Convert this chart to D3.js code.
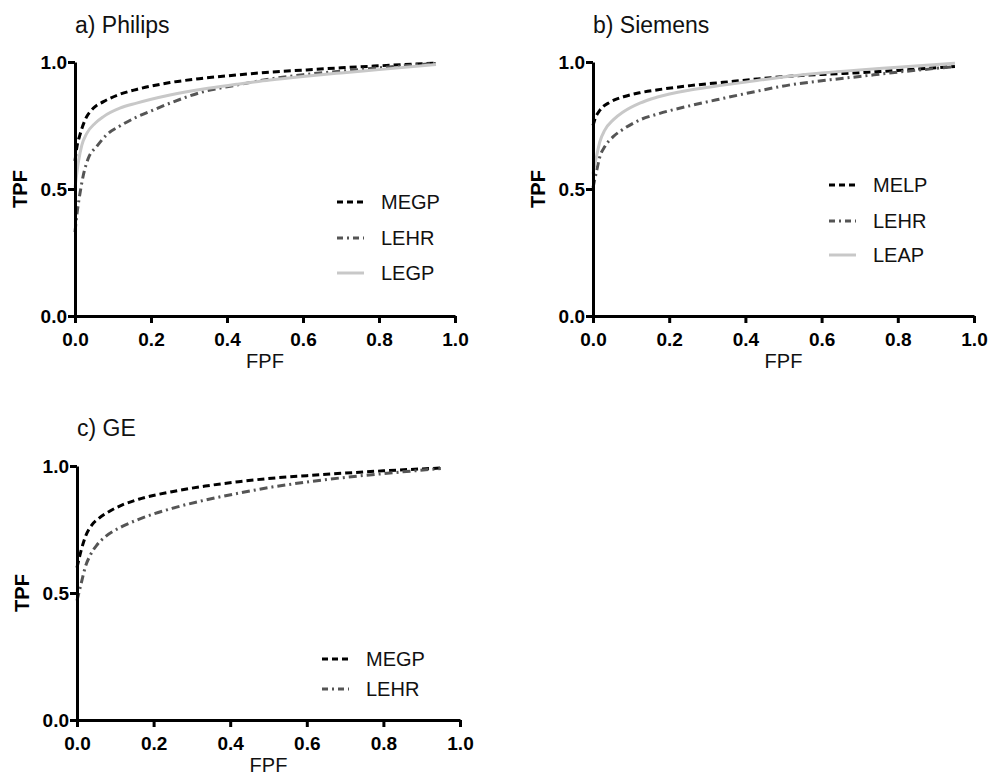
<!DOCTYPE html>
<html>
<head>
<meta charset="utf-8">
<script src="https://cdn.jsdelivr.net/npm/d3@7"></script>
<style>
  html, body { margin: 0; padding: 0; background: #fff; }
  svg { display: block; font-family: "Liberation Sans", Arial, Helvetica, sans-serif; }
</style>
</head>
<body>
<svg id="chart" width="989" height="778"></svg>
<script>
// ---- Data ----
const xTicks = [0, 0.2, 0.4, 0.6, 0.8, 1.0];
const yTicks = [0, 0.5, 1.0];

// a) Philips
const philipsMEGP = [[0,0.61],[0.005,0.665],[0.013,0.713],[0.026,0.77],[0.048,0.818],[0.075,0.844],[0.118,0.873],[0.162,0.892],[0.25,0.919],[0.338,0.936],[0.425,0.949],[0.513,0.96],[0.6,0.968],[0.7,0.977],[0.8,0.985],[0.95,0.996]];
const philipsLEHR = [[0,0.33],[0.005,0.40],[0.011,0.463],[0.022,0.555],[0.035,0.621],[0.057,0.667],[0.083,0.713],[0.118,0.748],[0.162,0.783],[0.206,0.811],[0.25,0.838],[0.338,0.883],[0.425,0.909],[0.513,0.933],[0.6,0.95],[0.7,0.964],[0.8,0.977],[0.95,0.995]];
const philipsLEGP = [[0,0.505],[0.009,0.607],[0.018,0.673],[0.031,0.719],[0.053,0.759],[0.075,0.785],[0.118,0.818],[0.162,0.838],[0.25,0.87],[0.338,0.894],[0.425,0.912],[0.513,0.929],[0.6,0.943],[0.7,0.957],[0.8,0.97],[0.95,0.99]];

// b) Siemens
const siemensMELP = [[0,0.75],[0.005,0.775],[0.018,0.81],[0.045,0.842],[0.08,0.863],[0.123,0.879],[0.167,0.89],[0.255,0.907],[0.342,0.92],[0.43,0.933],[0.517,0.944],[0.6,0.951],[0.7,0.958],[0.8,0.967],[0.95,0.982]];
const siemensLEHR = [[0,0.505],[0.01,0.575],[0.018,0.627],[0.031,0.667],[0.053,0.706],[0.08,0.736],[0.123,0.772],[0.167,0.794],[0.255,0.828],[0.342,0.857],[0.43,0.885],[0.517,0.91],[0.6,0.926],[0.7,0.943],[0.8,0.96],[0.95,0.982]];
const siemensLEAP = [[0,0.56],[0.01,0.634],[0.018,0.686],[0.031,0.732],[0.053,0.772],[0.08,0.804],[0.123,0.838],[0.167,0.861],[0.255,0.89],[0.342,0.909],[0.43,0.927],[0.517,0.944],[0.6,0.957],[0.7,0.969],[0.8,0.979],[0.95,0.995]];

// c) GE
const geMEGP = [[0,0.6],[0.011,0.669],[0.022,0.722],[0.039,0.768],[0.057,0.794],[0.083,0.82],[0.117,0.846],[0.161,0.869],[0.248,0.899],[0.335,0.921],[0.422,0.938],[0.509,0.952],[0.6,0.962],[0.7,0.972],[0.8,0.981],[0.95,0.992]];
const geLEHR = [[0,0.47],[0.011,0.538],[0.022,0.604],[0.035,0.65],[0.052,0.689],[0.074,0.722],[0.117,0.761],[0.161,0.79],[0.248,0.833],[0.335,0.866],[0.422,0.893],[0.509,0.917],[0.6,0.937],[0.7,0.955],[0.8,0.97],[0.95,0.99]];

const titles = ["a) Philips", "b) Siemens", "c) GE"];
const seriesNamesA = ["MEGP", "LEHR", "LEGP"];
const seriesNamesB = ["MELP", "LEHR", "LEAP"];
const seriesNamesC = ["MEGP", "LEHR"];

// ---- Styles ----
const styles = {
  dash:    { stroke: "#000000", dash: "7,4", legendDash: "6,4" },
  dashdot: { stroke: "#555555", dash: "8,4,2,4", legendDash: "6,4,2,4" },
  solid:   { stroke: "#c8c8c8", dash: null, legendDash: null }
};

const panels = [
  { title: titles[0], x0: 75, x1: 455, y0: 316, y1: 62, titleY: 33,
    series: [[seriesNamesA[0], philipsMEGP, "dash"], [seriesNamesA[1], philipsLEHR, "dashdot"], [seriesNamesA[2], philipsLEGP, "solid"]],
    legend: { x: 337, ys: [202, 238, 273] } },
  { title: titles[1], x0: 593, x1: 974, y0: 316, y1: 62, titleY: 33,
    series: [[seriesNamesB[0], siemensMELP, "dash"], [seriesNamesB[1], siemensLEHR, "dashdot"], [seriesNamesB[2], siemensLEAP, "solid"]],
    legend: { x: 829, ys: [185, 221, 255] } },
  { title: titles[2], x0: 77, x1: 460, y0: 720, y1: 466, titleY: 436,
    series: [[seriesNamesC[0], geMEGP, "dash"], [seriesNamesC[1], geLEHR, "dashdot"]],
    legend: { x: 322, ys: [659, 689] } }
];

const svg = d3.select("#chart");
const fmt = d3.format(".1f");

panels.forEach(p => {
  const g = svg.append("g");
  const x = d3.scaleLinear().domain([0, 1]).range([p.x0, p.x1]);
  const y = d3.scaleLinear().domain([0, 1]).range([p.y0, p.y1]);

  // title
  g.append("text").attr("x", p.x0).attr("y", p.titleY)
    .attr("font-size", 23).attr("fill", "#111").text(p.title);

  // curves
  const line = d3.line().x(d => x(d[0])).y(d => y(d[1])).curve(d3.curveMonotoneX);
  p.series.forEach(s => {
    const st = styles[s[2]];
    g.append("path").datum(s[1]).attr("d", line)
      .attr("fill", "none").attr("stroke", st.stroke).attr("stroke-width", 3)
      .attr("stroke-dasharray", st.dash);
  });

  // axes
  const xa = g.append("g").attr("transform", `translate(0,${p.y0})`)
    .call(d3.axisBottom(x).tickValues(xTicks).tickFormat(fmt).tickSize(7).tickSizeOuter(0).tickPadding(10));
  const ya = g.append("g").attr("transform", `translate(${p.x0},0)`)
    .call(d3.axisLeft(y).tickValues(yTicks).tickFormat(fmt).tickSize(7).tickSizeOuter(0).tickPadding(1));
  [xa, ya].forEach(a => {
    a.select(".domain").attr("stroke", "#000").attr("stroke-width", 3);
    a.selectAll(".tick line").attr("stroke", "#000").attr("stroke-width", 3);
    a.selectAll(".tick text").attr("font-size", 19).attr("font-weight", "bold").attr("fill", "#000")
      .attr("font-family", "'Liberation Sans', Arial, sans-serif");
  });

  // axis labels
  g.append("text").attr("transform", `translate(${p.x0 - 55},${(p.y0 + p.y1) / 2}) rotate(-90)`)
    .attr("text-anchor", "middle").attr("dominant-baseline", "central")
    .attr("font-size", 20).attr("font-weight", "bold").attr("fill", "#000").text("TPF");
  g.append("text").attr("x", (p.x0 + p.x1) / 2).attr("y", p.y0 + 45)
    .attr("text-anchor", "middle").attr("dominant-baseline", "central")
    .attr("font-size", 20).attr("fill", "#111").text("FPF");

  // legend
  p.series.forEach((s, i) => {
    const st = styles[s[2]];
    const ly = p.legend.ys[i];
    g.append("line").attr("x1", p.legend.x).attr("x2", p.legend.x + 27)
      .attr("y1", ly).attr("y2", ly)
      .attr("stroke", st.stroke).attr("stroke-width", 3).attr("stroke-dasharray", st.legendDash);
    g.append("text").attr("x", p.legend.x + 44).attr("y", ly)
      .attr("dominant-baseline", "central").attr("font-size", 20).attr("fill", "#111").text(s[0]);
  });
});
</script>
</body>
</html>
